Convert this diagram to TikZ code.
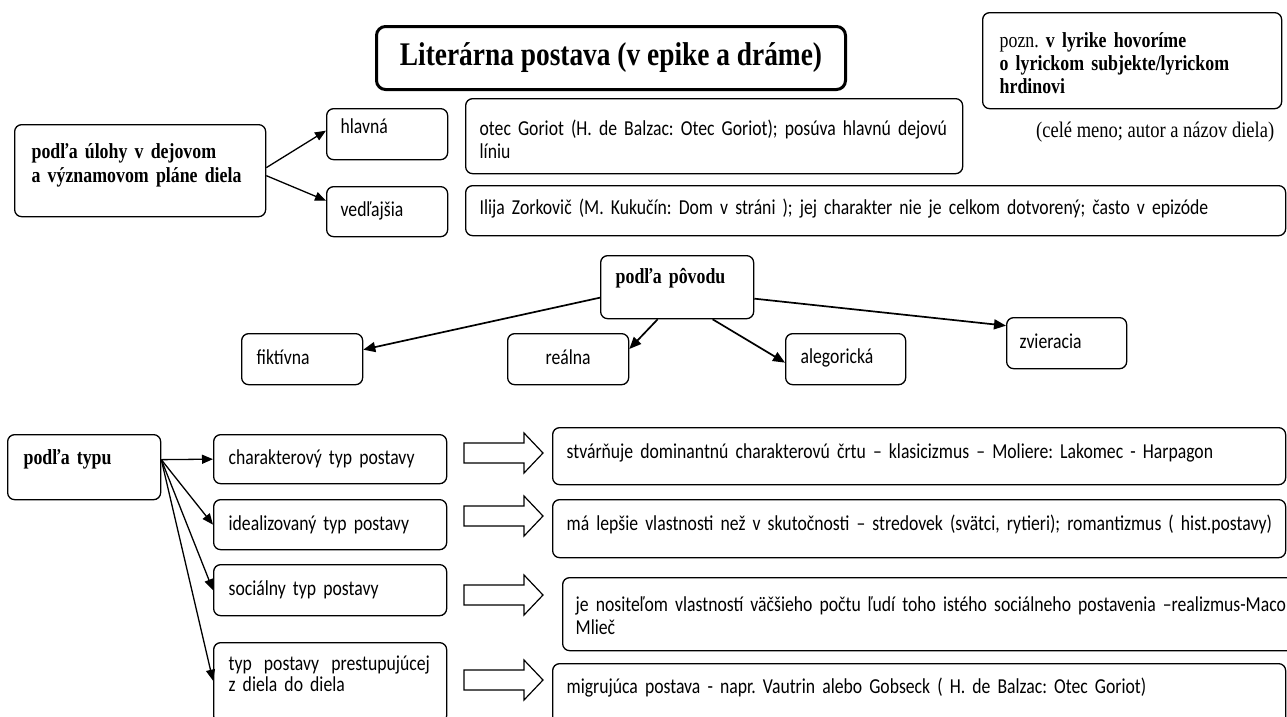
\documentclass[tikz,border=0pt]{standalone}
\usepackage{fontspec}
\setmainfont{Carlito}[FakeStretch=0.83]
\newfontfamily\tnr{Liberation Serif}[FakeStretch=0.83]
\usetikzlibrary{arrows.meta}
\frenchspacing
\newcommand{\blkarrow}[1]{%
  \draw[blk] (464,{#1-10}) -- (524,{#1-10}) -- (524,{#1-20}) -- (543,#1) -- (524,{#1+20}) -- (524,{#1+10}) -- (464,{#1+10}) -- cycle;}
\begin{document}
\begin{tikzpicture}[x=1pt,y=-1pt,
  box/.style={draw, line width=1.3pt, rounded corners=7pt, anchor=north west, inner ysep=0pt, inner xsep=14pt, align=left, font=\fontsize{21.3}{23}\selectfont},
  tbox/.style={box, font=\tnr\bfseries\fontsize{21.5}{23}\selectfont},
  arr/.style={-{Triangle[length=11pt,width=9pt]}, line width=1.3pt},
  arrb/.style={-{Triangle[length=12pt,width=10pt]}, line width=1.7pt},
  blk/.style={draw, line width=1.2pt, fill=white, line join=miter}]
\useasboundingbox (0,0) rectangle (1287,716);
\clip (0,0) rectangle (1287,716);

% title and note
\node[draw, line width=3pt, rounded corners=9pt, anchor=north west, minimum width=469pt, minimum height=63pt, inner sep=0pt, font=\tnr\bfseries\fontsize{33}{36}\selectfont] (title) at (375,25) {Literárna postava (v epike a dráme)};
\node[tbox, inner xsep=17pt, text width=265pt, text height=35pt, text depth=61pt] (pozn) at (982,12) {\mbox{{\mdseries pozn.} v lyrike hovoríme}\\\mbox{o lyrickom subjekte/lyrickom}\\hrdinovi};
\node[anchor=base west, inner sep=0pt, font=\tnr\fontsize{22.3}{23}\selectfont] (cele) at (1036,137) {(celé meno; autor a názov diela)};

% podla ulohy
\node[tbox, inner xsep=17pt, text width=217pt, text height=34pt, text depth=58pt, font=\tnr\bfseries\fontsize{21.5}{24}\selectfont] (uloha) at (14,124) {\mbox{podľa úlohy v dejovom}\\\mbox{a významovom pláne diela}};
\node[box, text width=93pt, text height=25pt, text depth=26pt] (hlavna) at (326,108) {hlavná};
\node[box, text width=93pt, text height=30pt, text depth=20pt] (vedlajsia) at (326,186) {vedľajšia};
\node[box, text width=469pt, text height=37pt, text depth=38pt] (otec) at (465,98) {\mbox{otec Goriot (H. de Balzac: Otec Goriot); posúva hlavnú dejovú}\\líniu};
\node[box, text width=792pt, text height=29pt, text depth=21pt] (ilija) at (465,185) {Ilija Zorkovič (M. Kukučín: Dom v stráni ); jej charakter nie je celkom dotvorený; často v epizóde};
\draw[arr] ([yshift=3pt]uloha.east) -- ([yshift=3.5pt]hlavna.west);
\draw[arr] ([yshift=-5pt]uloha.east) -- ([yshift=11pt]vedlajsia.west);

% podla povodu
\node[tbox, inner xsep=15pt, text width=123pt, text height=28pt, text depth=35pt] (povod) at (600,255) {podľa pôvodu};
\node[box, inner xsep=15pt, text width=91pt, text height=31pt, text depth=20pt] (fiktivna) at (241,333) {fiktívna};
\node[box, align=center, text width=93pt, text height=31pt, text depth=20pt] (realna) at (507,333) {reálna};
\node[box, inner xsep=15pt, text width=90pt, text height=30pt, text depth=21pt] (alegoricka) at (785,333) {alegorická};
\node[box, inner xsep=13pt, text width=94pt, text height=31pt, text depth=20pt] (zvieracia) at (1006,317) {zvieracia};
\draw[arrb] ([yshift=-10.5pt]povod.west) -- ([yshift=9.5pt]fiktivna.east);
\draw[arrb] ([xshift=-19.5pt]povod.south) -- ([yshift=-16pt]realna.north east);
\draw[arrb] ([xshift=35.5pt]povod.south) -- ([yshift=-3.5pt]alegoricka.west);
\draw[arrb] ([yshift=-11.5pt]povod.east) -- ([yshift=17.5pt]zvieracia.west);

% podla typu
\node[tbox, inner xsep=16pt, text width=121pt, text height=30pt, text depth=35pt] (typu) at (7,434) {podľa typu};
\node[box, inner xsep=15pt, text width=203pt, text height=30pt, text depth=19pt] (charakt) at (213,434) {charakterový typ postavy};
\node[box, inner xsep=15pt, text width=203pt, text height=31pt, text depth=19pt] (ideal) at (213,499) {idealizovaný typ postavy};
\node[box, inner xsep=15pt, text width=203pt, text height=31pt, text depth=20pt] (social) at (213,564) {sociálny typ postavy};
\node[box, inner xsep=15pt, text width=203pt, text height=28pt, text depth=52pt, font=\fontsize{21.3}{21}\selectfont] (prestup) at (213,642) {\mbox{typ\hspace{5pt} postavy\hspace{5pt} prestupujúcej}\\z diela do diela};
\coordinate (ts) at ([yshift=7.5pt]typu.east);
\draw[arr] (ts) -- (charakt.west);
\draw[arr] (ts) -- (ideal.west);
\draw[arr] (ts) -- (social.west);
\draw[arr] (ts) -- ([yshift=2pt]prestup.west);

\node[box, text width=705pt, text height=31pt, text depth=26pt] (stvarnuje) at (552,427) {stvárňuje dominantnú charakterovú črtu – klasicizmus – Moliere: Lakomec - Harpagon};
\node[box, text width=705pt, text height=31pt, text depth=27pt] (lepsie) at (552,499) {\mbox{má lepšie vlastnosti než v skutočnosti – stredovek (svätci, rytieri); romantizmus ( hist.postavy)}};
\node[box, inner xsep=13pt, text width=722pt, text height=34pt, text depth=39pt] (nositel) at (562,577) {\mbox{je nositeľom vlastností väčšieho počtu ľudí toho istého sociálneho postavenia –realizmus-Maco}\\Mlieč};
\node[box, text width=705pt, text height=30pt, text depth=32pt] (migruj) at (552,663) {migrujúca postava - napr. Vautrin alebo Gobseck ( H. de Balzac: Otec Goriot)};

\blkarrow{453}
\blkarrow{516}
\blkarrow{595}
\blkarrow{680}
\end{tikzpicture}
\end{document}
